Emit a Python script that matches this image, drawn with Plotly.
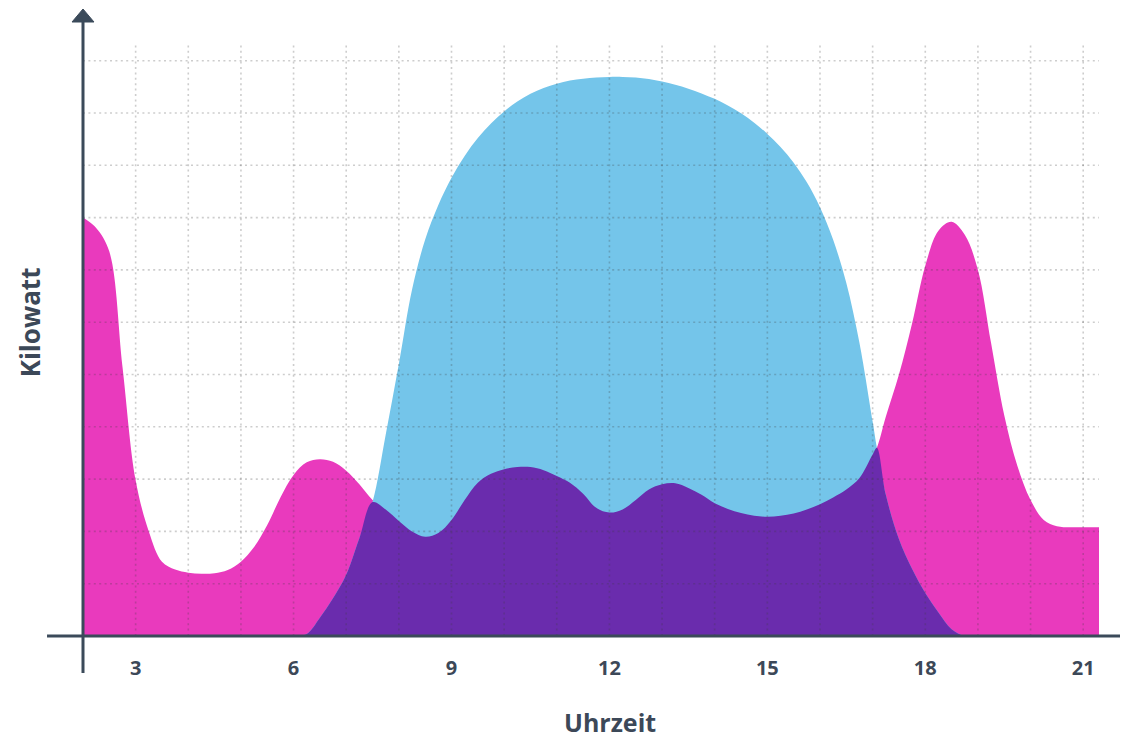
import numpy as np
import plotly.graph_objects as go

# ---- data ----
hours = [2.0, 2.25, 2.5, 2.75, 3.0, 3.25, 3.5, 3.75, 4.0, 4.25, 4.5, 4.75,
         5.0, 5.25, 5.5, 5.75, 6.0, 6.25, 6.5, 6.75, 7.0, 7.25, 7.5, 7.75,
         8.0, 8.25, 8.5, 8.75, 9.0, 9.25, 9.5, 9.75, 10.0, 10.25, 10.5, 10.75,
         11.0, 11.25, 11.5, 11.75, 12.0, 12.25, 12.5, 12.75, 13.0, 13.25, 13.5, 13.75,
         14.0, 14.25, 14.5, 14.75, 15.0, 15.25, 15.5, 15.75, 16.0, 16.25, 16.5, 16.75,
         17.0, 17.08, 17.25, 17.5, 17.75, 18.0, 18.25, 18.5, 18.75,
         19.0, 19.25, 19.5, 19.75, 20.0, 20.25, 20.5, 20.75, 21.0, 21.25, 21.3]

verbrauch = [8.0, 7.8, 7.35, 5.15,
             2.98, 2.0, 1.42, 1.27,
             1.21, 1.19, 1.2, 1.26,
             1.42, 1.7, 2.12, 2.65,
             3.08, 3.32, 3.38, 3.33,
             3.16, 2.9, 2.6, 2.42,
             2.2, 2.0, 1.9, 1.97,
             2.22, 2.6, 2.93, 3.1,
             3.19, 3.23, 3.23, 3.17,
             3.06, 2.93, 2.72, 2.45,
             2.36, 2.42, 2.6, 2.8,
             2.9, 2.92, 2.83, 2.7,
             2.54, 2.43, 2.35, 2.3,
             2.28, 2.3, 2.34, 2.42,
             2.52, 2.65, 2.8, 3.02,
             3.47, 3.6, 4.19, 5.0, 5.98,
             7.08, 7.75, 7.92, 7.67,
             7.0, 5.6, 4.22, 3.25,
             2.6, 2.22, 2.1, 2.08,
             2.08, 2.08, 2.08]

erzeugung = [0, 0, 0, 0,
             0, 0, 0, 0,
             0, 0, 0, 0,
             0, 0, 0, 0,
             0, 0.04, 0.35, 0.72,
             1.17, 1.87, 2.56, 3.85,
             5.2, 6.62, 7.58, 8.24,
             8.76, 9.18, 9.52, 9.8,
             10.03, 10.22, 10.37, 10.48,
             10.56, 10.62, 10.655, 10.68,
             10.69, 10.69, 10.68, 10.65,
             10.6, 10.54, 10.465, 10.375,
             10.27, 10.145, 9.995, 9.815,
             9.6, 9.35, 9.05, 8.675,
             8.2, 7.575, 6.75, 5.6,
             4.1, 3.6, 2.7, 1.85, 1.28,
             0.82, 0.45, 0.13, 0,
             0, 0, 0, 0,
             0, 0, 0, 0,
             0, 0, 0]

tick_hours = [3, 6, 9, 12, 15, 18, 21]
grid_hours = list(range(3, 22))
grid_levels = list(range(1, 12))

overlap = np.minimum(np.array(verbrauch), np.array(erzeugung))

PINK = "#e93abd"
BLUE = "#74c5ea"
PURPLE = "#6a2cad"
AXIS = "#3b4a5a"
TEXT = "#3c4858"
FONT = "Open Sans"

fig = go.Figure()
for yvals, col in [(verbrauch, PINK), (erzeugung, BLUE), (overlap, PURPLE)]:
    fig.add_trace(go.Scatter(
        x=hours, y=yvals, mode="lines", fill="tozeroy",
        fillcolor=col, line=dict(width=0, shape="spline", smoothing=1.0, color=col),
        hoverinfo="skip", showlegend=False))

shapes = []
grid_style = dict(color="rgba(60,60,60,0.26)", width=1.6, dash="2px,3.4px")
for h in grid_hours:
    shapes.append(dict(type="line", xref="x", yref="y domain", x0=h, x1=h, y0=0, y1=1,
                       line=grid_style, layer="above"))
for lv in grid_levels:
    shapes.append(dict(type="line", xref="x domain", yref="y", x0=0, x1=1, y0=lv, y1=lv,
                       line=grid_style, layer="above"))

# axes
shapes.append(dict(type="line", xref="paper", yref="y domain", x0=-0.0354, x1=1.03, y0=0, y1=0,
                   line=dict(color=AXIS, width=3), layer="above"))
shapes.append(dict(type="line", xref="x domain", yref="y domain", x0=0, x1=0, y0=-0.0626, y1=1.042,
                   line=dict(color=AXIS, width=3), layer="above"))
shapes.append(dict(type="path", xref="x domain", yref="y domain",
                   path="M -0.0108,1.0389 L 0,1.0609 L 0.0108,1.0389 Z",
                   fillcolor=AXIS, line=dict(color=AXIS, width=1), layer="above"))

fig.update_layout(
    width=1120, height=733,
    margin=dict(l=75, r=29, t=37, b=105),
    paper_bgcolor="white", plot_bgcolor="white",
    shapes=shapes,
    hovermode=False,
    xaxis=dict(range=[2, 21.3], showgrid=False, zeroline=False, showline=False,
               tickmode="array", tickvals=tick_hours, ticktext=[str(t) for t in tick_hours],
               ticks="", ticklabelstandoff=18,
               tickfont=dict(family=FONT, size=20, color=TEXT, weight=700)),
    yaxis=dict(range=[0, 11.3], showgrid=False, zeroline=False, showline=False,
               showticklabels=False, ticks=""),
    annotations=[
        dict(text="Kilowatt", xref="paper", yref="paper", x=-0.052, y=0.531,
             textangle=-90, showarrow=False, xanchor="center", yanchor="middle",
             font=dict(family=FONT, size=26, color=TEXT, weight=700)),
        dict(text="Uhrzeit", xref="paper", yref="paper", x=0.519, y=-0.1455,
             showarrow=False, xanchor="center", yanchor="middle", borderpad=0,
             font=dict(family=FONT, size=25, color=TEXT, weight=700)),
    ],
)

fig.write_html("out.html", config={"displayModeBar": False})
